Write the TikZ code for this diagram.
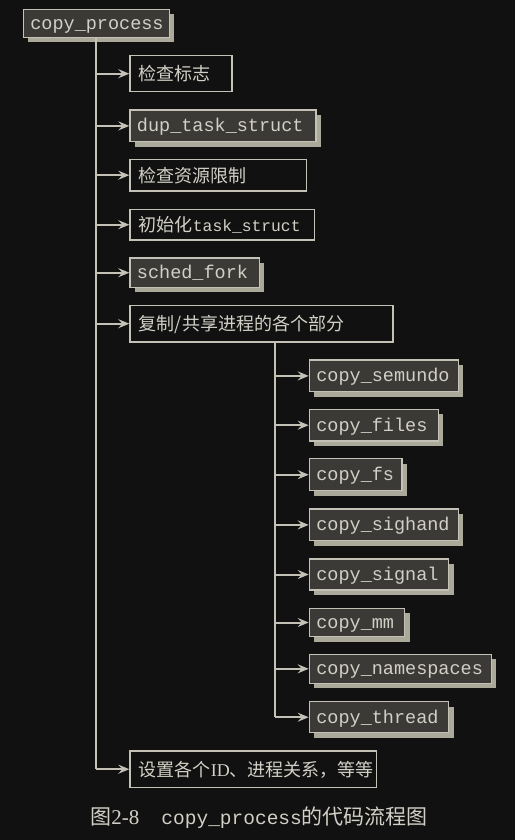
\documentclass[tikz,border=0pt]{standalone}
\usepackage{fontspec}
\setmonofont{Liberation Mono}
\newfontfamily\cjk{Noto Sans CJK SC}
\newfontfamily\lserif{Liberation Serif}
\usetikzlibrary{shadows,arrows.meta}
\definecolor{bgc}{HTML}{111111}
\definecolor{boxfill}{HTML}{3C3A37}
\definecolor{linec}{HTML}{C4C2B6}
\definecolor{shc}{HTML}{ABA999}
\definecolor{txtc}{HTML}{D2D0C6}
\tikzset{
  fnbox/.style={draw=linec, line width=1.3pt, fill=boxfill, text=txtc, anchor=west,
    inner xsep=7pt, inner ysep=0pt, align=left, text height=15pt, text depth=3pt,
    font=\fontsize{18.5}{20}\selectfont\ttfamily,
    drop shadow={shadow xshift=5pt, shadow yshift=-5pt, fill=shc, opacity=1}},
  txbox/.style={draw=linec, line width=1.3pt, fill=bgc, text=txtc, anchor=west,
    inner xsep=9pt, inner ysep=0pt, align=left, text height=16pt, text depth=2pt,
    font=\fontsize{18}{20}\selectfont\cjk},
  bsz/.style 2 args={text width=#1pt-14pt, minimum height=#2pt},
  tsz/.style 2 args={text width=#1pt-18pt, minimum height=#2pt},
  conn/.style={draw=linec, line width=2pt},
  arr/.style={conn, -{Stealth[length=11pt,width=9pt,inset=4pt]}}
}
\begin{document}
\begin{tikzpicture}[x=1pt,y=-1pt]
\fill[bgc] (0,0) rectangle (515,840);
\useasboundingbox (0,0) rectangle (515,840);

\coordinate (ax) at (96,0);
\coordinate (bx) at (275,0);

\node[fnbox, bsz={146}{28}] (cp) at (22.7,23.3) {copy\_process};
\node[txbox, tsz={102}{36}] (n1) at (129.3,73.7) {检查标志};
\node[fnbox, bsz={186}{31.7}] (n2) at (129.3,125.9) {dup\_task\_struct};
\node[txbox, tsz={176.4}{31.7}] (n3) at (129.3,175.2) {检查资源限制};
\node[txbox, tsz={184.7}{30.7}] (n4) at (129.3,224.7) {初始化{\fontsize{16.3}{18}\selectfont\ttfamily task\_struct}};
\node[fnbox, bsz={129.4}{29.3}] (n5) at (129.3,272.7) {sched\_fork};
\node[txbox, tsz={263}{36.7}] (n6) at (129.3,323.7) {复制/共享进程的各个部分};

\node[fnbox, bsz={149}{31.7}] (s1) at (308.7,375.9) {copy\_semundo};
\node[fnbox, bsz={129}{31.7}] (s2) at (308.7,425.2) {copy\_files};
\node[fnbox, bsz={92.6}{32}] (s3) at (308.7,474.7) {copy\_fs};
\node[fnbox, bsz={149}{31.7}] (s4) at (308.7,524.9) {copy\_sighand};
\node[fnbox, bsz={139.4}{31}] (s5) at (308.7,574.5) {copy\_signal};
\node[fnbox, bsz={95.2}{28.4}] (s6) at (308.7,622.5) {copy\_mm};
\node[fnbox, bsz={181.8}{29}] (s7) at (308.7,668.8) {copy\_namespaces};
\node[fnbox, bsz={139.4}{31}] (s8) at (308.7,717.2) {copy\_thread};

\node[txbox, tsz={246.4}{36.3}] (n7) at (129.3,769.2) {设置各个{\lserif ID}、进程关系，等等};

% main trunk
\draw[conn] (ax |- cp.south) -- (ax |- n7.west);
\foreach \n in {n1,n2,n3,n4,n5,n6,n7}
  \draw[arr] (ax |- \n.west) -- (\n.west);

% sub trunk
\draw[conn] (bx |- n6.south) -- (bx |- s8.west);
\foreach \n in {s1,s2,s3,s4,s5,s6,s7,s8}
  \draw[arr] (bx |- \n.west) -- (\n.west);

% caption
\node[anchor=base, text=txtc, inner sep=0pt] (cap) at (259.2,824)
  {{\fontsize{21}{24}\selectfont\cjk 图}{\fontsize{21}{24}\selectfont\lserif 2-8}\hspace{22pt}{\fontsize{19.5}{22}\selectfont\ttfamily copy\_process}{\fontsize{21}{24}\selectfont\cjk 的代码流程图}};
\end{tikzpicture}
\end{document}
